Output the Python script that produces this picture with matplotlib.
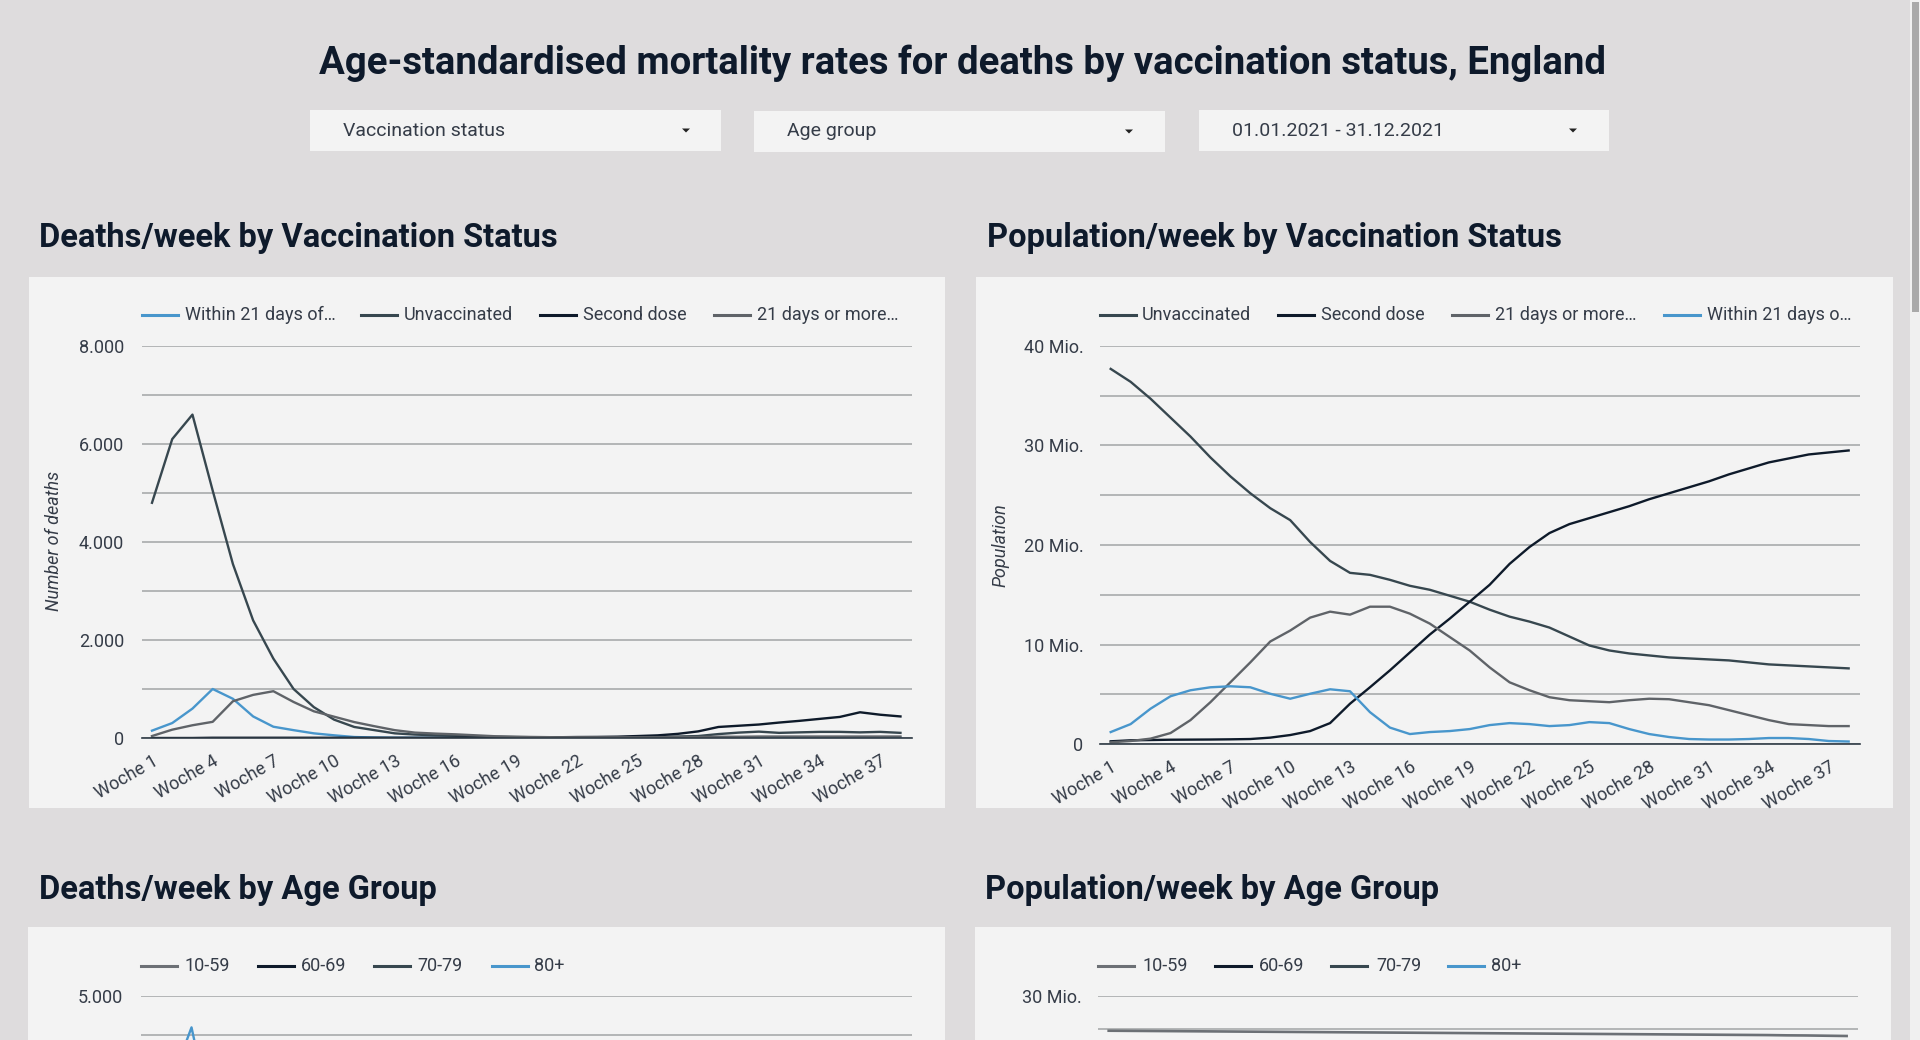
import matplotlib
matplotlib.use("Agg")
from matplotlib import pyplot as plt
from matplotlib.lines import Line2D
from matplotlib.patches import Rectangle, Polygon

plt.rcParams['font.family'] = ['Roboto', 'DejaVu Sans']

# weeks 1..38
weeks = list(range(1, 39))
week_ticks = list(range(1, 38, 3))
week_labels = ["Woche %d" % w for w in week_ticks]

# deaths per week by vaccination status
deaths_within21 = [150, 305, 600, 1000, 800, 440, 230, 160, 95, 55, 20, 10, 5, 5, 5, 5, 5, 5, 5,
                   5, 5, 5, 5, 5, 5, 5, 5, 5, 5, 5, 5, 5, 5, 5, 5, 5, 5, 5]
deaths_unvacc = [4800, 6100, 6600, 5050, 3550, 2400, 1620, 1000, 630, 375, 225, 160, 95, 70, 55,
                 45, 35, 25, 20, 15, 15, 15, 15, 15, 20, 25, 30, 40, 80, 110, 130, 105, 115, 125,
                 125, 115, 125, 105]
deaths_second = [0, 0, 0, 5, 5, 5, 5, 5, 5, 5, 5, 5, 5, 5, 5, 5, 5, 5, 8, 10, 15, 20, 22, 27, 40,
                 54, 85, 135, 225, 250, 275, 315, 350, 390, 430, 525, 475, 440]
deaths_21plus = [40, 170, 260, 330, 750, 880, 955, 735, 545, 435, 325, 240, 160, 110, 90, 75, 55,
                 35, 25, 20, 15, 15, 15, 15, 15, 15, 20, 20, 25, 25, 30, 30, 30, 30, 30, 30, 30, 30]

# population per week by vaccination status (millions)
pop_unvacc = [37.7, 36.4, 34.7, 32.8, 30.9, 28.8, 26.9, 25.2, 23.7, 22.5, 20.3, 18.4, 17.2, 17.0,
              16.5, 15.9, 15.5, 14.9, 14.3, 13.5, 12.8, 12.3, 11.7, 10.8, 9.9, 9.4, 9.1, 8.9, 8.7,
              8.6, 8.5, 8.4, 8.2, 8.0, 7.9, 7.8, 7.7, 7.6]
pop_second = [0.27, 0.37, 0.4, 0.43, 0.44, 0.45, 0.47, 0.5, 0.64, 0.9, 1.3, 2.1, 4.05, 5.7, 7.4,
              9.2, 11.0, 12.6, 14.3, 16.0, 18.1, 19.8, 21.2, 22.1, 22.7, 23.3, 23.9, 24.6, 25.2,
              25.8, 26.4, 27.1, 27.7, 28.3, 28.7, 29.1, 29.3, 29.5]
pop_21plus = [0.17, 0.3, 0.54, 1.1, 2.4, 4.2, 6.2, 8.2, 10.3, 11.4, 12.7, 13.3, 13.0, 13.8, 13.8,
              13.1, 12.1, 10.75, 9.4, 7.7, 6.2, 5.4, 4.7, 4.4, 4.3, 4.2, 4.4, 4.55, 4.5, 4.2, 3.9,
              3.4, 2.9, 2.4, 2.0, 1.9, 1.8, 1.8]
pop_within21 = [1.2, 2.0, 3.55, 4.8, 5.4, 5.7, 5.8, 5.7, 5.05, 4.55, 5.05, 5.5, 5.3, 3.2, 1.65,
                1.0, 1.2, 1.3, 1.5, 1.9, 2.1, 2.0, 1.8, 1.9, 2.2, 2.1, 1.5, 1.0, 0.7, 0.5, 0.45,
                0.45, 0.5, 0.6, 0.6, 0.5, 0.3, 0.25]

# age group charts (only the top of them is visible)
age_deaths_weeks = [1, 2, 3, 4, 5]
age_deaths_80 = [3000, 3900, 4600, 3400, 2400]
age_pop_1059 = [27.37, 27.36, 27.35, 27.34, 27.33, 27.32, 27.31, 27.30, 27.29, 27.28, 27.27,
                27.26, 27.25, 27.24, 27.23, 27.22, 27.21, 27.20, 27.19, 27.18, 27.17, 27.16,
                27.15, 27.14, 27.13, 27.12, 27.11, 27.10, 27.09, 27.08, 27.07, 27.06, 27.05,
                27.04, 27.02, 27.01, 26.99, 26.97]

BLUE = '#4896cc'
SLATE = '#37474f'
NAVY = '#0e1a2a'
GREY = '#5f6368'
GREY2 = '#6c7075'
GRID = '#a2a4a6'
TXT = '#353c48'
HEAD = '#0e1a2b'

W, H = 1920, 1040
fig = plt.figure(figsize=(W / 100, H / 100), dpi=100)
fig.patch.set_facecolor('#dedcdd')


def fx(x):
    return x / W


def fy(y):
    return 1 - y / H


def rect(x0, y0, x1, y1, color, z=-5):
    fig.add_artist(Rectangle((fx(x0), fy(y1)), (x1 - x0) / W, (y1 - y0) / H,
                             transform=fig.transFigure, facecolor=color, edgecolor='none',
                             zorder=z))


def add_ax(left, top, right, bottom):
    ax = fig.add_axes([fx(left), fy(bottom), (right - left) / W, (bottom - top) / H])
    ax.set_facecolor('none')
    for s in ['top', 'right', 'left']:
        ax.spines[s].set_visible(False)
    ax.spines['bottom'].set_color('#2f3b45')
    ax.spines['bottom'].set_linewidth(1.2)
    ax.tick_params(length=0, labelsize=13, labelcolor=TXT)
    return ax


def legend_item(xl, xt, y, color, label):
    fig.add_artist(Line2D([fx(xl), fx(xl + 36)], [fy(y), fy(y)], color=color, lw=2.2))
    fig.text(fx(xt + 1), fy(y), label, ha='left', va='center', fontsize=13, color=TXT)


def dropdown(x0, x1, y0, y1, xt, xa, label):
    rect(x0, y0, x1, y1, '#f3f3f3')
    fig.text(fx(xt), fy((y0 + y1) / 2), label, ha='left', va='center', fontsize=14, color=TXT)
    cy = (y0 + y1) / 2
    fig.add_artist(Polygon([(fx(xa - 4), fy(cy - 2)), (fx(xa + 4), fy(cy - 2)), (fx(xa), fy(cy + 2))],
                           closed=True, transform=fig.transFigure, facecolor='#222', edgecolor='none'))


# header
fig.text(fx(962), fy(63.5), "Age-standardised mortality rates for deaths by vaccination status, England",
         ha='center', va='center', fontsize=27.6, fontweight='bold', color=HEAD)
dropdown(310, 721, 110, 151, 343, 686, "Vaccination status")
dropdown(754, 1165, 111, 152, 787, 1129, "Age group")
dropdown(1199, 1609, 110, 151, 1232, 1573, "01.01.2021 - 31.12.2021")

# section titles
fig.text(fx(39), fy(238.5), "Deaths/week by Vaccination Status", ha='left', va='center',
         fontsize=23.5, fontweight='bold', color=HEAD)
fig.text(fx(987), fy(238.5), "Population/week by Vaccination Status", ha='left', va='center',
         fontsize=23.5, fontweight='bold', color=HEAD)
fig.text(fx(39), fy(889.5), "Deaths/week by Age Group", ha='left', va='center',
         fontsize=23.5, fontweight='bold', color=HEAD)
fig.text(fx(985), fy(889.5), "Population/week by Age Group", ha='left', va='center',
         fontsize=23.5, fontweight='bold', color=HEAD)

# panels
rect(29, 277, 945, 808, '#f3f3f3')
rect(976, 277, 1893, 808, '#f3f3f3')
rect(28, 927, 945, 1040, '#f3f3f3')
rect(975, 927, 1891, 1040, '#f3f3f3')

# scrollbar
rect(1910, 0, 1920, 1040, '#f0f0f0')
rect(1912, 2, 1919, 312, '#a9a9a9', z=-4)

# --- deaths by vaccination status
ax1 = add_ax(142, 346, 912, 738)
ax1.plot(weeks, deaths_within21, color=BLUE, lw=1.7)
ax1.plot(weeks, deaths_unvacc, color=SLATE, lw=1.7)
ax1.plot(weeks, deaths_second, color=NAVY, lw=1.7)
ax1.plot(weeks, deaths_21plus, color=GREY, lw=1.7)
ax1.set_ylim(0, 8000)
ax1.set_xlim(0.506, 38.57)
ax1.set_yticks([0, 2000, 4000, 6000, 8000], ["0", "2.000", "4.000", "6.000", "8.000"])
ax1.set_yticks([1000, 3000, 5000, 7000], minor=True)
ax1.tick_params(axis='y', which='both', length=0, pad=13)
ax1.grid(axis='y', which='both', color=GRID, lw=1.1)
ax1.set_axisbelow(True)
ax1.set_xticks(week_ticks, week_labels, rotation=30, ha='right', rotation_mode='anchor')
ax1.tick_params(axis='x', pad=10)
fig.text(fx(54), fy(541), "Number of deaths", rotation=90, ha='center', va='center',
         fontsize=13, style='italic', color=TXT)
legend_item(142, 184, 315, BLUE, "Within 21 days of…")
legend_item(361, 403, 315, SLATE, "Unvaccinated")
legend_item(540, 582, 315, NAVY, "Second dose")
legend_item(714, 756, 315, GREY, "21 days or more…")

# --- population by vaccination status
ax2 = add_ax(1100, 346, 1860, 744)
ax2.plot(weeks, pop_unvacc, color=SLATE, lw=1.7)
ax2.plot(weeks, pop_second, color=NAVY, lw=1.7)
ax2.plot(weeks, pop_21plus, color=GREY, lw=1.7)
ax2.plot(weeks, pop_within21, color=BLUE, lw=1.7)
ax2.set_ylim(0, 40)
ax2.set_xlim(0.464, 38.57)
ax2.set_yticks([0, 10, 20, 30, 40], ["0", "10 Mio.", "20 Mio.", "30 Mio.", "40 Mio."])
ax2.set_yticks([5, 15, 25, 35], minor=True)
ax2.tick_params(axis='y', which='both', length=0, pad=12)
ax2.grid(axis='y', which='both', color=GRID, lw=1.1)
ax2.set_axisbelow(True)
ax2.set_xticks(week_ticks, week_labels, rotation=30, ha='right', rotation_mode='anchor')
ax2.tick_params(axis='x', pad=10)
fig.text(fx(1000), fy(545), "Population", rotation=90, ha='center', va='center',
         fontsize=13, style='italic', color=TXT)
legend_item(1100, 1141, 315, SLATE, "Unvaccinated")
legend_item(1278, 1320, 315, NAVY, "Second dose")
legend_item(1452, 1494, 315, GREY, "21 days or more…")
legend_item(1664, 1706, 315, BLUE, "Within 21 days o…")

# --- deaths by age group (cut off at the bottom of the page)
ax3 = add_ax(141, 996, 912, 1388)
ax3.plot(age_deaths_weeks, age_deaths_80, color=BLUE, lw=1.7)
ax3.set_ylim(0, 5000)
ax3.set_xlim(0.506, 38.57)
ax3.set_yticks([5000], ["5.000"])
ax3.set_yticks([500 * i for i in range(1, 10)], minor=True)
ax3.tick_params(axis='y', which='both', length=0, pad=13)
ax3.grid(axis='y', which='both', color=GRID, lw=1.1)
ax3.set_xticks([])
legend_item(141, 184, 966, GREY2, "10-59")
legend_item(258, 300, 966, NAVY, "60-69")
legend_item(374, 416, 966, SLATE, "70-79")
legend_item(492, 533, 966, BLUE, "80+")

# --- population by age group (cut off at the bottom of the page)
ax4 = add_ax(1098, 996, 1858, 1392)
ax4.plot(weeks, age_pop_1059, color=GREY2, lw=1.9)
ax4.set_ylim(0, 30)
ax4.set_xlim(0.464, 38.57)
ax4.set_yticks([30], ["30 Mio."])
ax4.set_yticks([2.5 * i for i in range(1, 12)], minor=True)
ax4.tick_params(axis='y', which='both', length=0, pad=12)
ax4.grid(axis='y', which='both', color=GRID, lw=1.1)
ax4.set_xticks([])
legend_item(1098, 1141, 966, GREY2, "10-59")
legend_item(1215, 1258, 966, NAVY, "60-69")
legend_item(1331, 1375, 966, SLATE, "70-79")
legend_item(1448, 1490, 966, BLUE, "80+")

fig.savefig("out.png", dpi=100, facecolor=fig.get_facecolor())
